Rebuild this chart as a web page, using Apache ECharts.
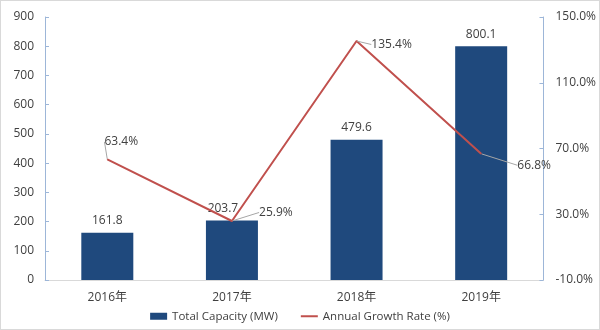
<!DOCTYPE html>
<html><head><meta charset="utf-8">
<script src="https://cdn.jsdelivr.net/npm/echarts@6/dist/echarts.min.js"></script>
<style>html,body{margin:0;padding:0;background:#fff}#c{width:598px;height:328px;border:1px solid #d9d9d9}</style>
</head><body><div id="c"></div>
<script>
const categories = ['2016年', '2017年', '2018年', '2019年'];
const capacity = [161.8, 203.7, 479.6, 800.1];
const growth = [63.4, 25.9, 135.4, 66.8];
const leftTicks = [0, 900, 100];
const rightTicks = [-10, 150, 40];

const chart = echarts.init(document.getElementById('c'));
const font = '"Open Sans", "Noto Sans CJK SC", sans-serif';
const labelShift = [[14, -6], [44, 3], [35, 15], [53, 23]];
const barLabelShift = [0, -9, 0, 0];
chart.setOption({
  animation: false,
  textStyle: { fontFamily: font, color: '#404040' },
  grid: { left: 44, right: 50, top: 16, bottom: 49 },
  legend: {
    bottom: 2, left: 'center', itemGap: 22, itemWidth: 17, itemHeight: 7,
    textStyle: { fontSize: 11.5, color: '#404040', fontFamily: font },
    data: [
      { name: 'Total Capacity (MW)', icon: 'rect' },
      { name: 'Annual Growth Rate (%)', itemStyle: { opacity: 0 } }
    ]
  },
  xAxis: {
    type: 'category', data: categories,
    axisLine: { lineStyle: { color: '#d9d9d9' } },
    axisTick: { show: false },
    axisLabel: { fontSize: 12, color: '#404040', margin: 12 }
  },
  yAxis: [{
    type: 'value', min: leftTicks[0], max: leftTicks[1], interval: leftTicks[2],
    axisLine: { show: true, lineStyle: { color: '#9db6d8' } },
    axisTick: { show: true, inside: true, length: 4, lineStyle: { color: '#9db6d8' } },
    splitLine: { show: false },
    axisLabel: { fontSize: 12, color: '#404040', margin: 11 }
  }, {
    type: 'value', min: rightTicks[0], max: rightTicks[1], interval: rightTicks[2],
    axisLine: { show: true, lineStyle: { color: '#9db6d8' } },
    axisTick: { show: true, inside: true, length: 4, lineStyle: { color: '#9db6d8' } },
    splitLine: { show: false },
    axisLabel: { fontSize: 12, color: '#404040', margin: 12, formatter: v => v.toFixed(1) + '%' }
  }],
  series: [{
    name: 'Total Capacity (MW)', type: 'bar', data: capacity, barWidth: 52,
    itemStyle: { color: '#1f497d' },
    label: { show: true, position: 'top', distance: 6, fontSize: 12, color: '#404040', formatter: p => p.value.toFixed(1) },
    labelLayout: p => ({ dx: barLabelShift[p.dataIndex] })
  }, {
    name: 'Annual Growth Rate (%)', type: 'line', yAxisIndex: 1, data: growth,
    symbol: 'circle', symbolSize: 1,
    lineStyle: { color: '#c0504d', width: 2 }, itemStyle: { color: '#c0504d' },
    label: { show: true, position: 'top', distance: 5, fontSize: 12, color: '#404040', formatter: p => p.value.toFixed(1) + '%' },
    labelLine: { show: true, lineStyle: { color: '#a6a6a6', width: 1 } },
    labelLayout: p => ({ dx: labelShift[p.dataIndex][0], dy: labelShift[p.dataIndex][1] })
  }]
});
</script></body></html>
